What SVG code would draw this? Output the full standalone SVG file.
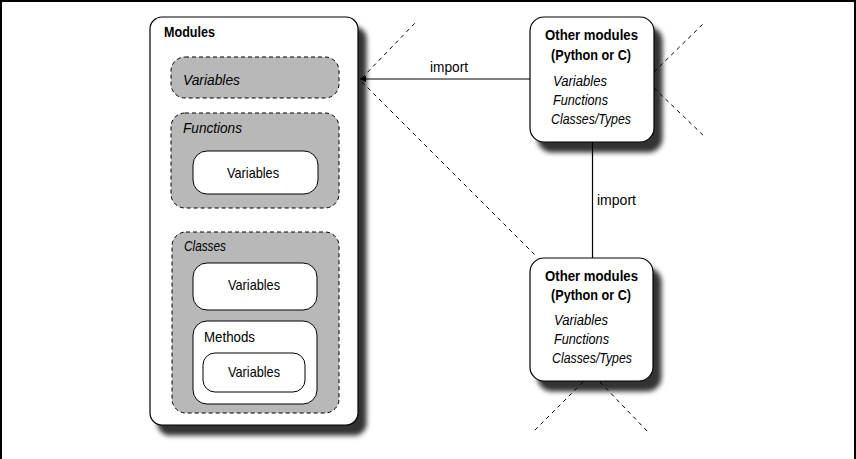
<svg xmlns="http://www.w3.org/2000/svg" width="856" height="459" viewBox="0 0 856 459">
<style>
.box{fill:#fff;stroke:#000;stroke-width:1.2}
.grp{fill:#b8b8b8;stroke:#000;stroke-width:1;stroke-dasharray:4 3}
.inner{fill:#fff;stroke:#000;stroke-width:1}
.t{font-family:"Liberation Sans",Arial,sans-serif;font-size:15px;fill:#000}
.b{font-weight:bold}
.i{font-style:italic}
.c{text-anchor:middle}
.dash{stroke:#000;stroke-width:1;stroke-dasharray:4 4;fill:none}
.line{stroke:#000;stroke-width:1.2;fill:none}
.frame{stroke:#000;stroke-width:2;fill:none}
</style>
<defs>
<filter id="sh" x="-10%" y="-10%" width="130%" height="130%">
<feDropShadow dx="8" dy="10" stdDeviation="2.5" flood-color="#000" flood-opacity="0.8"/>
</filter>
<marker id="arr" viewBox="0 0 6 6" refX="6" refY="3" markerWidth="6" markerHeight="6" markerUnits="userSpaceOnUse" orient="auto">
<path d="M0,0 L6,3 L0,6 z" fill="#000"/>
</marker>
</defs>
<rect width="856" height="459" fill="#fff"/>
<path class="frame" d="M1,459 V1 H855 V459"/>

<g id="view-lines">
<line class="dash" x1="362" y1="78" x2="416" y2="22"/>
<line class="dash" x1="362" y1="82" x2="537" y2="257"/>
<line class="dash" x1="654" y1="72" x2="705" y2="22"/>
<line class="dash" x1="654" y1="88" x2="705" y2="137"/>
<line class="dash" x1="583" y1="382" x2="533" y2="432"/>
<line class="dash" x1="600" y1="382" x2="648" y2="432"/>
</g>

<g id="modules">
<rect class="box" x="150" y="17" width="208" height="408" rx="12" filter="url(#sh)"/>
<text class="t b" x="164" y="37" textLength="51" lengthAdjust="spacingAndGlyphs">Modules</text>
</g>
<g id="module-variables">
<rect class="grp" x="171" y="57" width="168" height="41" rx="14"/>
<text class="t i" x="183" y="85" textLength="57" lengthAdjust="spacingAndGlyphs">Variables</text>
</g>
<g id="functions">
<rect class="grp" x="171" y="113" width="168" height="95" rx="14"/>
<text class="t i" x="183" y="133" textLength="59" lengthAdjust="spacingAndGlyphs">Functions</text>
</g>
<g id="function-variables">
<rect class="inner" x="193" y="151" width="125" height="43" rx="14"/>
<text class="t" x="227" y="178" textLength="52" lengthAdjust="spacingAndGlyphs">Variables</text>
</g>
<g id="classes">
<rect class="grp" x="172" y="232" width="167" height="181" rx="14"/>
<text class="t i" x="184" y="251" textLength="42" lengthAdjust="spacingAndGlyphs">Classes</text>
</g>
<g id="class-variables">
<rect class="inner" x="193" y="263" width="124" height="47" rx="14"/>
<text class="t" x="228" y="290" textLength="52" lengthAdjust="spacingAndGlyphs">Variables</text>
</g>
<g id="methods">
<rect class="inner" x="193" y="321" width="124" height="83" rx="14"/>
<text class="t" x="204" y="342" textLength="51" lengthAdjust="spacingAndGlyphs">Methods</text>
</g>
<g id="method-variables">
<rect class="inner" x="203" y="353" width="102" height="39" rx="12"/>
<text class="t" x="228" y="377" textLength="52" lengthAdjust="spacingAndGlyphs">Variables</text>
</g>

<g id="other-modules-1">
<rect class="box" x="530" y="17" width="124" height="125" rx="14" filter="url(#sh)"/>
<text class="t b" x="545" y="40" textLength="93" lengthAdjust="spacingAndGlyphs">Other modules</text>
<text class="t b" x="551" y="60" textLength="80" lengthAdjust="spacingAndGlyphs">(Python or C)</text>
<text class="t i" x="553" y="86" textLength="54" lengthAdjust="spacingAndGlyphs">Variables</text>
<text class="t i" x="553" y="105" textLength="55" lengthAdjust="spacingAndGlyphs">Functions</text>
<text class="t i" x="551" y="124" textLength="80" lengthAdjust="spacingAndGlyphs">Classes/Types</text>
</g>
<g id="other-modules-2">
<rect class="box" x="530" y="258" width="123" height="123" rx="14" filter="url(#sh)"/>
<text class="t b" x="545" y="281" textLength="93" lengthAdjust="spacingAndGlyphs">Other modules</text>
<text class="t b" x="551" y="300" textLength="80" lengthAdjust="spacingAndGlyphs">(Python or C)</text>
<text class="t i" x="554" y="325" textLength="54" lengthAdjust="spacingAndGlyphs">Variables</text>
<text class="t i" x="554" y="344" textLength="55" lengthAdjust="spacingAndGlyphs">Functions</text>
<text class="t i" x="552" y="363" textLength="80" lengthAdjust="spacingAndGlyphs">Classes/Types</text>
</g>

<g id="connectors">
<line class="line" x1="530" y1="79" x2="360" y2="79" marker-end="url(#arr)"/>
<text class="t" x="430" y="72" textLength="38" lengthAdjust="spacingAndGlyphs">import</text>
<line class="line" x1="592.5" y1="142" x2="592.5" y2="258"/>
<text class="t" x="597" y="205" textLength="39" lengthAdjust="spacingAndGlyphs">import</text>
</g>
</svg>
